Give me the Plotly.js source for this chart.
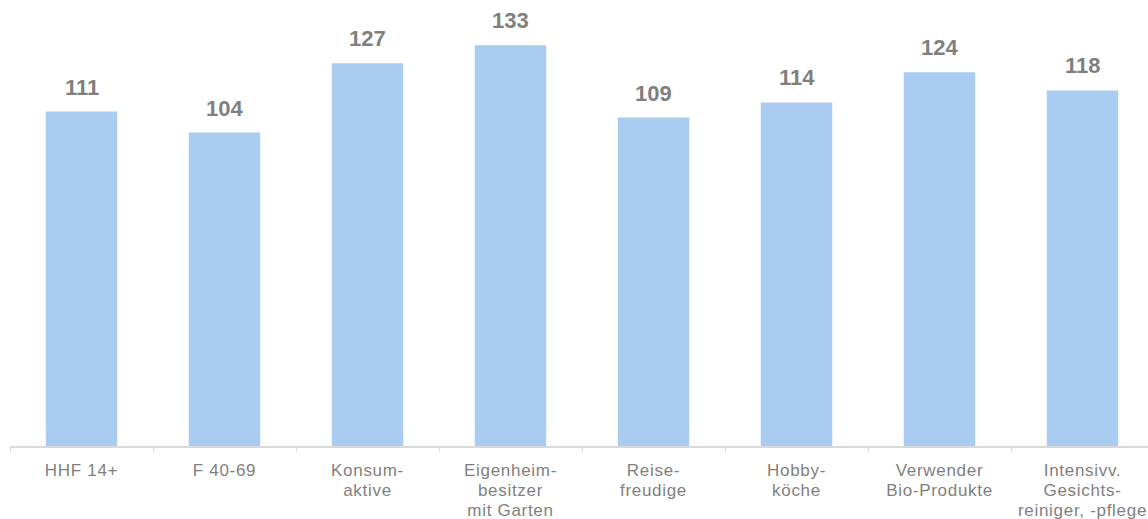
<!DOCTYPE html>
<html><head><meta charset="utf-8">
<script src="https://cdn.plot.ly/plotly-3.0.1.min.js"></script>
<style>html,body{margin:0;padding:0;background:#fff;overflow:hidden}#chart{width:1148px;height:519px}
.xtick text{letter-spacing:0.7px}</style>
</head><body><div id="chart"></div>
<script>
const categories = ["HHF 14+", "F 40-69", "Konsum-<br>aktive", "Eigenheim-<br>besitzer<br>mit Garten", "Reise-<br>freudige", "Hobby-<br>köche", "Verwender<br>Bio-Produkte", "Intensivv.<br>Gesichts-<br>reiniger, -pflege"];
const values = [111, 104, 127, 133, 109, 114, 124, 118];

const idx = categories.map((_, i) => i);
const trace = {
  type: 'bar', x: idx, y: values, width: 0.5,
  marker: {color: '#AACCF0'}, hoverinfo: 'skip'
};
const annotations = values.map((v, i) => ({
  x: i, y: v, text: String(v), showarrow: false, yanchor: 'bottom', yshift: 10,
  font: {family: 'Liberation Sans, Arial, sans-serif', size: 22, color: '#7F7F7F', weight: 'bold'}
}));
const layout = {
  width: 1148, height: 519,
  margin: {l: 10, r: 0, t: 0, b: 73},
  paper_bgcolor: '#fff', plot_bgcolor: '#fff',
  showlegend: false,
  xaxis: {
    type: 'linear', range: [-0.5, 7.458], tickmode: 'array', tickvals: idx, ticktext: categories,
    showgrid: false, zeroline: false, showline: true, linecolor: '#D9D9D9', linewidth: 1.5,
    ticks: '', ticklen: 0, ticklabelstandoff: 8,
    tickfont: {family: 'Liberation Sans, Arial, sans-serif', size: 17, color: '#7F7F7F'}
  },
  xaxis2: {
    overlaying: 'x', type: 'linear', range: [-0.5, 7.458], tickmode: 'array',
    tickvals: [-0.5, 0.5, 1.5, 2.5, 3.5, 4.5, 5.5, 6.5, 7.5], showticklabels: false,
    ticks: 'outside', ticklen: 5, tickcolor: '#D9D9D9', tickwidth: 1, side: 'bottom',
    showgrid: false, zeroline: false, showline: false
  },
  yaxis: {range: [0, 148], visible: false, showgrid: false, zeroline: false},
  annotations: annotations
};
const tickTrace = {type: 'scatter', x: [], y: [], xaxis: 'x2', hoverinfo: 'skip'};
Plotly.newPlot('chart', [trace, tickTrace], layout, {displayModeBar: false, staticPlot: true}).then(() => {
  document.querySelectorAll('.xtick text tspan.line').forEach(t => {
    const dy = t.getAttribute('dy');
    if (dy && dy.endsWith('em')) {
      const v = parseFloat(dy);
      t.setAttribute('dy', (v * 20 / 22.1) + 'em');
    }
  });
});
</script></body></html>
